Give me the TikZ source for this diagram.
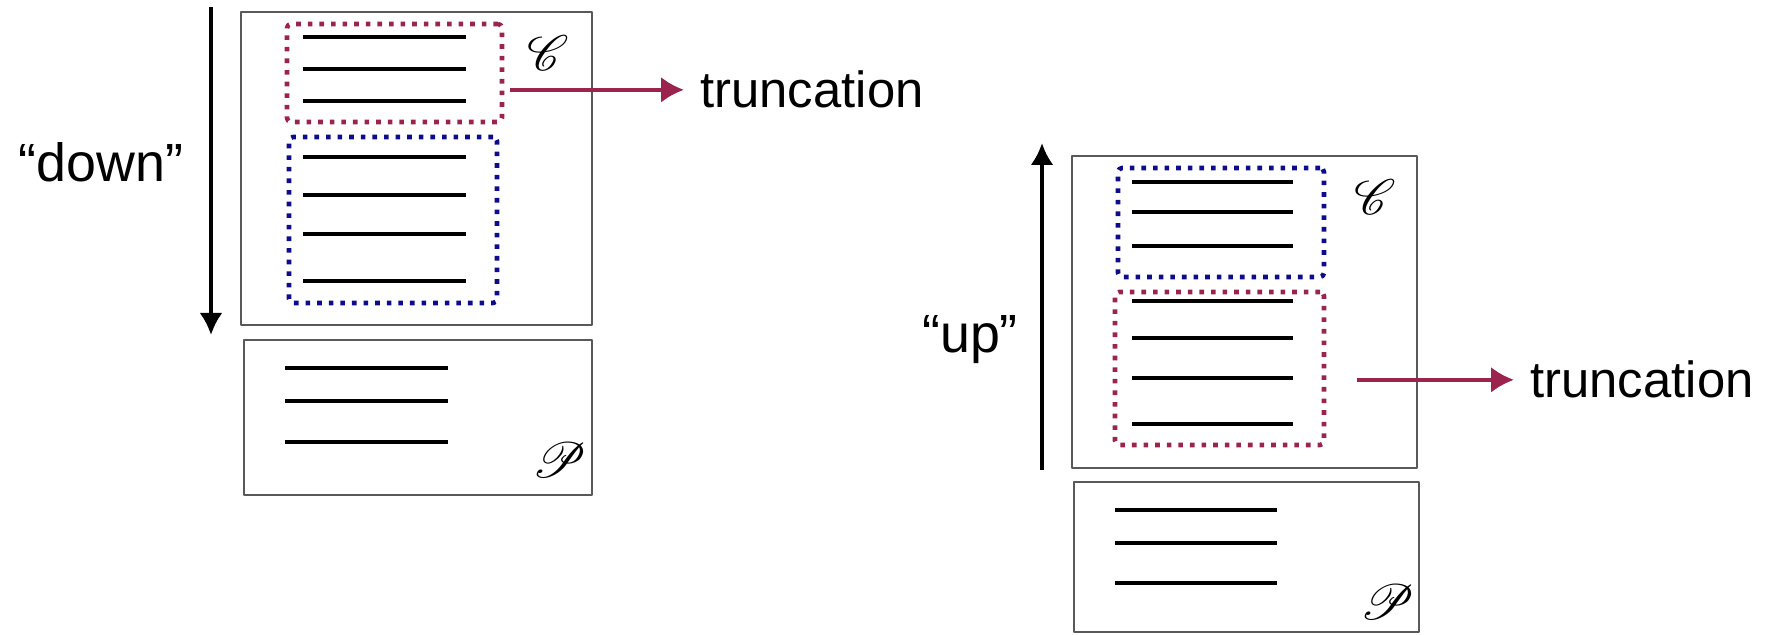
\documentclass[tikz,border=0pt]{standalone}
\usepackage{fontspec}
\setmainfont{Liberation Sans}
\usepackage{mathrsfs}
\usetikzlibrary{positioning,arrows.meta}
\definecolor{cutred}{RGB}{155,36,78}
\definecolor{keepblue}{RGB}{12,12,140}

\begin{document}
\begin{tikzpicture}[>=latex,line join=bevel,
  stack/.style={draw=black!65,line width=1bp,inner sep=0pt},
  cutbox/.style={draw=cutred,line width=2.3bp,dash pattern=on 2.3bp off 3.5bp,rounded corners=2bp,inner sep=0pt},
  keepbox/.style={draw=keepblue,line width=2.3bp,dash pattern=on 2.3bp off 3.5bp,rounded corners=2bp,inner sep=0pt},
  entry/.style={line width=1.8bp},
  dirarrow/.style={line width=2bp,-{Latex[length=11bp,width=11.5bp]}},
  cutarrow/.style={draw=cutred,line width=2bp,-{Latex[length=11.5bp,width=13bp]}},
  word/.style={inner sep=0pt,anchor=base,font=\fontsize{27}{32}\selectfont},
  cutword/.style={inner xsep=8bp,inner ysep=0pt,anchor=base west,font=\fontsize{25.5}{30}\selectfont},
  setname/.style={inner sep=0pt,font=\fontsize{30}{36}\selectfont},
]
\useasboundingbox (0bp,0bp) rectangle (884bp,317.5bp);
%% "down": truncation at the top of C
\node (Cdown) at (208.25bp,233.25bp) [stack,minimum width=175.5bp,minimum height=156.5bp] {};
  \node (Pdown) at (209bp,108.75bp) [stack,minimum width=174bp,minimum height=77.5bp] {};
  \node (cutdown) at (197.25bp,281bp) [cutbox,minimum width=107.5bp,minimum height=49bp] {};
  \node (keepdown) at (196.5bp,207.5bp) [keepbox,minimum width=104bp,minimum height=83bp] {};
  \foreach \y in {299,283,267} \draw [entry] (151.5bp,\y bp) -- (233bp,\y bp);
  \foreach \y in {239,220,200.5,177} \draw [entry] (151.5bp,\y bp) -- (233bp,\y bp);
  \foreach \y in {133.5,117,96.5} \draw [entry] (142.5bp,\y bp) -- (224bp,\y bp);
  \node (Cdownname) at (274bp,291bp) [setname] {$\mathscr{C}$};
  \node (Pdownname) at (280bp,87.5bp) [setname] {$\mathscr{P}$};
  \node (worddown) at (50.5bp,226.5bp) [word] {“down”};
  \coordinate (downstart) at (105.5bp,314bp);
  \coordinate (downend) at (105.5bp,150bp);
  \draw [dirarrow] (downstart) -- (downend);
  \node (truncdown) at (342bp,263.5bp) [cutword] {truncation};
  \draw [cutarrow,shorten <=3bp] (cutdown.east |- truncdown.west) -- (truncdown.west);
%% "up": truncation at the bottom of C
\node (Cup) at (622.25bp,161.5bp) [stack,minimum width=172.5bp,minimum height=156bp] {};
  \node (Pup) at (623.25bp,39bp) [stack,minimum width=172.5bp,minimum height=75bp] {};
  \node (keepup) at (610.5bp,206.25bp) [keepbox,minimum width=103bp,minimum height=54.5bp] {};
  \node (cutup) at (609.75bp,133.25bp) [cutbox,minimum width=104.5bp,minimum height=76.5bp] {};
  \foreach \y in {226.5,211.5,194.5} \draw [entry] (566bp,\y bp) -- (646.5bp,\y bp);
  \foreach \y in {167,148.5,128.5,105.5} \draw [entry] (566bp,\y bp) -- (646.5bp,\y bp);
  \foreach \y in {62.5,46,26} \draw [entry] (557.5bp,\y bp) -- (638.5bp,\y bp);
  \node (Cupname) at (687.5bp,219bp) [setname] {$\mathscr{C}$};
  \node (Pupname) at (694bp,16.5bp) [setname] {$\mathscr{P}$};
  \node (wordup) at (485bp,141bp) [word] {“up”};
  \coordinate (upstart) at (521bp,82.5bp);
  \coordinate (upend) at (521bp,246bp);
  \draw [dirarrow] (upstart) -- (upend);
  \node (truncup) at (757bp,118.5bp) [cutword] {truncation};
  \draw [cutarrow,shorten <=15.5bp] (cutup.east |- truncup.west) -- (truncup.west);
%
\end{tikzpicture}
\end{document}
